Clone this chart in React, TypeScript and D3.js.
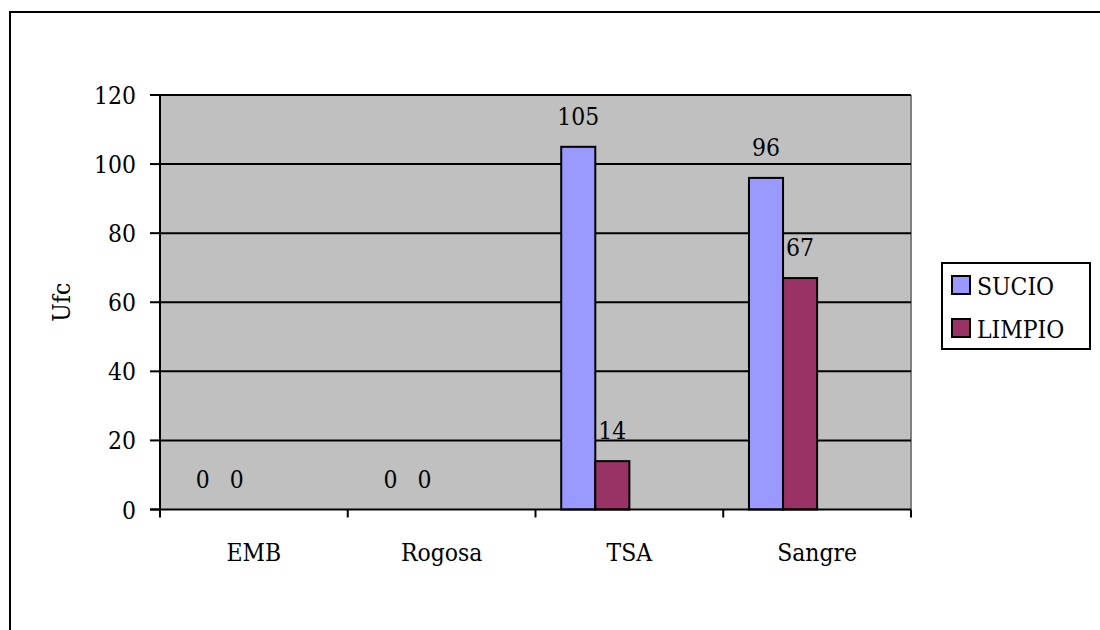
import React from "react";
import * as d3 from "d3";

const categories = ["EMB", "Rogosa", "TSA", "Sangre"];
const seriesNames = ["SUCIO", "LIMPIO"];
const sucio = [0, 0, 105, 96];
const limpio = [0, 0, 14, 67];
const yTicks = [0, 20, 40, 60, 80, 100, 120];
const yLabel = "Ufc";

const seriesColors = ["#9999FF", "#993366"];
const FONT = "DejaVu Serif";
const FS = 25;
const SX = 0.88;

function T({ x, y, anchor = "start", rotate = 0, dy, children }: any) {
  return (
    <text
      transform={`translate(${x},${y}) rotate(${rotate}) scale(${SX},1)`}
      textAnchor={anchor}
      dy={dy}
      style={{ fontFamily: FONT, fontSize: FS }}
      fill="#000"
    >
      {children}
    </text>
  );
}

export default function App() {
  const W = 1100, H = 630;
  const left = 160, right = 911, top = 95, bottom = 509.5;
  const x0 = d3.scaleBand<string>().domain(categories).range([left, right]).paddingInner(0).paddingOuter(0);
  const cw = x0.bandwidth();
  const gap = cw * 0.274;
  const bw = (cw - gap) / 4;
  const x1 = d3.scaleBand<string>().domain(seriesNames).range([gap / 2, gap / 2 + 2 * bw]).padding(0);
  const y = d3.scaleLinear().domain([0, 120]).range([bottom, top]);
  const values = [sucio, limpio];

  return (
    <svg width={W} height={H} style={{ position: "absolute", left: 0, top: 0, display: "block", background: "#fff" }}>
      <rect x={10} y={12} width={1200} height={700} fill="#fff" stroke="#000" strokeWidth={2} />
      <rect x={left} y={top} width={right - left} height={bottom - top} fill="#C0C0C0" />
      <line x1={left} x2={right} y1={top} y2={top} stroke="#808080" strokeWidth={2} />
      <line x1={right} x2={right} y1={top} y2={bottom} stroke="#808080" strokeWidth={2} />
      {yTicks.filter(t => t > 0).map(t => (
        <line key={"g" + t} x1={left} x2={right} y1={y(t)} y2={y(t)} stroke="#000" strokeWidth={2} />
      ))}
      {categories.map((c, ci) =>
        seriesNames.map((s, si) => {
          const v = values[si][ci];
          if (v <= 0) return null;
          const bx = (x0(c) as number) + (x1(s) as number);
          return (
            <rect key={c + s} x={bx} y={y(v)} width={x1.bandwidth()} height={bottom - y(v)} fill={seriesColors[si]} stroke="#000" strokeWidth={2} />
          );
        })
      )}
      {categories.map((c, ci) =>
        seriesNames.map((s, si) => {
          const v = values[si][ci];
          const cx = (x0(c) as number) + (x1(s) as number) + x1.bandwidth() / 2;
          return (
            <T key={"l" + c + s} x={cx} y={y(v) - 22} anchor="middle">{v}</T>
          );
        })
      )}
      <line x1={left} x2={left} y1={top} y2={bottom} stroke="#000" strokeWidth={2} />
      <line x1={left - 10} x2={right} y1={bottom} y2={bottom} stroke="#000" strokeWidth={2} />
      {yTicks.map(t => (
        <g key={"t" + t}>
          <line x1={left - 10} x2={left} y1={y(t)} y2={y(t)} stroke="#000" strokeWidth={2} />
          <T x={136} y={y(t) + 9} anchor="end">{t}</T>
        </g>
      ))}
      {categories.map(c => (
        <line key={"xt" + c} x1={x0(c) as number} x2={x0(c) as number} y1={bottom} y2={bottom + 8} stroke="#000" strokeWidth={2} />
      ))}
      <line x1={right} x2={right} y1={bottom} y2={bottom + 8} stroke="#000" strokeWidth={2} />
      {categories.map(c => (
        <T key={"xl" + c} x={(x0(c) as number) + cw / 2} y={561} anchor="middle">{c}</T>
      ))}
      <T x={70} y={(top + bottom) / 2} anchor="middle" rotate={-90}>{yLabel}</T>
      <rect x={942} y={263} width={148} height={86} fill="#fff" stroke="#000" strokeWidth={2} />
      {seriesNames.map((s, i) => (
        <g key={"lg" + s}>
          <rect x={952} y={276 + i * 43} width={18} height={18} fill={seriesColors[i]} stroke="#000" strokeWidth={2} />
          <T x={977} y={295 + i * 43}>{s}</T>
        </g>
      ))}
    </svg>
  );
}
